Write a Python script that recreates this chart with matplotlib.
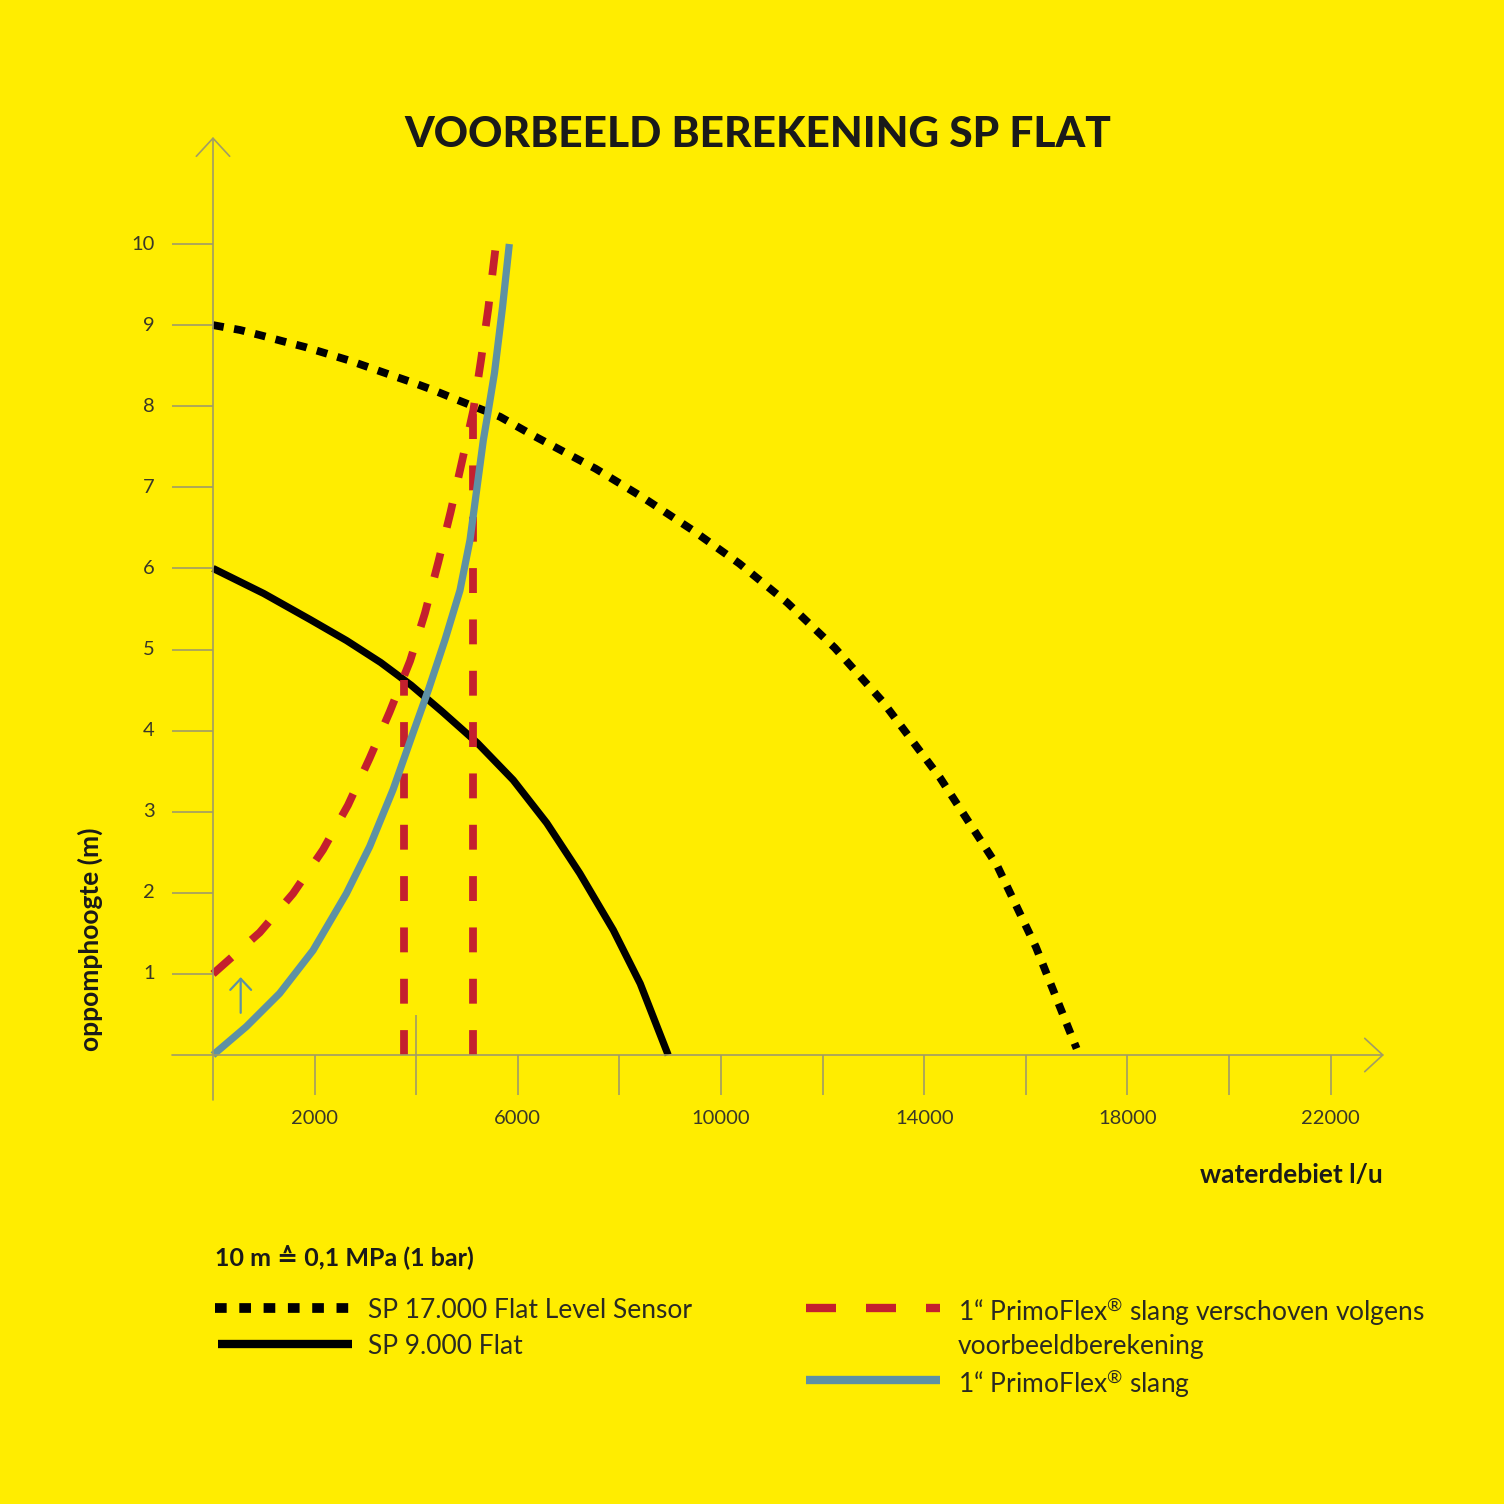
import numpy as np
import matplotlib
matplotlib.use("Agg")
import matplotlib.pyplot as plt
from matplotlib.lines import Line2D

plt.rcParams['font.family'] = ['Lato', 'DejaVu Sans']
plt.rcParams['mathtext.fontset'] = 'custom'
plt.rcParams['mathtext.rm'] = 'Lato'
plt.rcParams['mathtext.it'] = 'Lato:italic'
plt.rcParams['mathtext.bf'] = 'Lato:bold'

# data
sp17000_x = [0, 530, 965, 1380, 1810, 2700, 3520, 3940, 4330, 4760, 5650, 6300, 7530, 8450,
             9420, 10360, 11300, 12240, 13180, 14310, 15440, 16200, 17000]
sp17000_y = [9.0, 8.94, 8.87, 8.80, 8.73, 8.56, 8.38, 8.29, 8.20, 8.09, 7.87, 7.64, 7.23, 6.88,
             6.48, 6.06, 5.58, 5.02, 4.36, 3.42, 2.33, 1.33, 0.08]
sp9000_x = [0, 1000, 1910, 2630, 3300, 3900, 4500, 5200, 5910, 6570, 7220, 7880, 8410, 8960]
sp9000_y = [6.0, 5.69, 5.37, 5.11, 4.84, 4.56, 4.24, 3.85, 3.39, 2.86, 2.24, 1.54, 0.88, 0.0]
hose_x = [0, 656, 1312, 1969, 2625, 3084, 3543, 3937, 4239, 4567, 4862, 5059, 5191, 5321,
          5413, 5541, 5699, 5833]
hose_y = [0.0, 0.35, 0.76, 1.29, 1.99, 2.57, 3.27, 3.97, 4.50, 5.12, 5.73, 6.35, 6.97, 7.58,
          7.92, 8.41, 9.22, 10.0]
shifted_x = [0, 919, 1575, 2165, 2657, 3084, 3478, 3880, 4173, 4436, 4679, 4902, 5125, 5276,
             5420, 5571]
shifted_y = [1.0, 1.51, 1.99, 2.53, 3.08, 3.66, 4.23, 4.86, 5.45, 6.08, 6.70, 7.32, 7.95, 8.57,
             9.21, 10.0]
cross_x = [3750, 5125]
cross_y = [4.62, 8.05]
shift_arrow_x = 545
shift_arrow_y = [0.52, 0.96]

xticks = list(range(0, 22001, 2000))
xticklabels = ['2000', '6000', '10000', '14000', '18000', '22000']
yticks = list(range(1, 11))

title = 'VOORBEELD BEREKENING SP FLAT'
xlabel = 'waterdebiet l/u'
ylabel = 'oppomphoogte (m)'
note = '10 m \u2259 0,1 MPa (1 bar)'
reg = '$^{\\mathrm{\u00ae}}$'
legend_left = ['SP 17.000 Flat Level Sensor', 'SP 9.000 Flat']
legend_right = ['1\u201c PrimoFlex' + reg + ' slang verschoven volgens\nvoorbeeldberekening',
                '1\u201c PrimoFlex' + reg + ' slang']

YELLOW = '#ffed00'
RED = '#c4202e'
BLUE = '#5e91a4'
GREY = '#a19c66'
TXT = '#3a3828'
W = 1504.0

fig = plt.figure(figsize=(15.04, 15.04), dpi=100, facecolor=YELLOW)
ax = fig.add_axes([0, 0, 1, 1])
ax.set_facecolor(YELLOW)
ax.axis('off')
# pixel mapping: x=0 at px 213, 50.8 px per 1000; y=0 at px 1055, 81.1 px per unit
xs, ys = 0.0508, 81.1
ax.set_xlim(-213 / xs, (W - 213) / xs)
ax.set_ylim(-(W - 1055) / ys, 1055 / ys)

def px_x(p):
    return (p - 213) / xs

def px_y(p):
    return (1055 - p) / ys

# axes with open arrowheads
arrow = dict(arrowstyle='->,head_length=1.3,head_width=1.2', color=GREY, lw=1.2,
             shrinkA=0, shrinkB=0, mutation_scale=10)
ax.annotate('', xy=(0, px_y(137)), xytext=(0, px_y(1100)), arrowprops=arrow)
ax.annotate('', xy=(px_x(1384), 0), xytext=(px_x(172), 0), arrowprops=arrow)

# ticks
ax.vlines(xticks[1:], px_y(1095), 0, color=GREY, lw=1.2)
ax.vlines([4000], 0, px_y(1015), color=GREY, lw=1.2)
ax.hlines(yticks, px_x(172), 0, color=GREY, lw=1.2)
for v in yticks:
    ax.text(px_x(155), v, str(v), ha='right', va='center', fontsize=14.5,
            color=TXT)
for lab in xticklabels:
    ax.text(int(lab), px_y(1119), lab, ha='center', va='center', fontsize=14.5,
            color=TXT)

# curves
ax.plot(sp17000_x, sp17000_y, color='black', lw=5.6, linestyle=(0, (1.4, 1.35)),
        dash_capstyle='butt', solid_joinstyle='round')
ax.plot(sp9000_x, sp9000_y, color='black', lw=5.2, solid_capstyle='butt')
ax.vlines(cross_x, 0, cross_y, color=RED, lw=5.6, linestyles=[(0, (3.2, 3.4))])
ax.plot(hose_x, hose_y, color=BLUE, lw=5.2, solid_capstyle='butt')
ax.plot(shifted_x, shifted_y, color=RED, lw=5.6, linestyle=(0, (3.2, 3.4)),
        dash_capstyle='butt')
ax.annotate('', xy=(shift_arrow_x, shift_arrow_y[1]), xytext=(shift_arrow_x, shift_arrow_y[0]),
            arrowprops=dict(arrowstyle='->,head_length=0.8,head_width=0.75', color=BLUE,
                            lw=1.6, shrinkA=0, shrinkB=0, mutation_scale=10))

# titles
fig.text(758 / W, 1 - 135 / W, title, ha='center', va='center', fontsize=30.5,
         fontweight='black', color='#1a1a1a')
fig.text(1383 / W, 1 - 1175 / W, xlabel, ha='right', va='center', fontsize=19,
         fontweight='bold', color='#1a1a1a')
fig.text(90 / W, 1 - 939 / W, ylabel, ha='center', va='center', rotation=90,
         fontsize=19, fontweight='bold', color='#1a1a1a')

# legend
fig.text(215 / W, 1 - 1258 / W, note, ha='left', va='center', fontsize=18,
         fontweight='bold', color='#1a1a1a')
styles = [dict(color='black', lw=7, linestyle=(0, (1.2, 1.3)), dash_capstyle='butt'),
          dict(color='black', lw=6, solid_capstyle='butt'),
          dict(color=RED, lw=6, linestyle=(0, (3.6, 3.6)), dash_capstyle='butt'),
          dict(color=BLUE, lw=6, solid_capstyle='butt')]
rows = [(215, 350, 368, 1308, legend_left[0], styles[0]),
        (218, 352, 368, 1344, legend_left[1], styles[1]),
        (806, 940, 958, 1308, legend_right[0], styles[2]),
        (806, 940, 958, 1380, legend_right[1], styles[3])]
for x0, x1, xt, yp, lab, st in rows:
    fig.add_artist(Line2D([x0 / W, x1 / W], [1 - yp / W, 1 - yp / W],
                          transform=fig.transFigure, **st))
    for i, line in enumerate(lab.split('\n')):
        fig.text(xt / W, 1 - (yp + 36 * i) / W, line, ha='left', va='center_baseline',
                 fontsize=19, color='#2a2a22')

fig.savefig('out.png', dpi=100, facecolor=YELLOW)
